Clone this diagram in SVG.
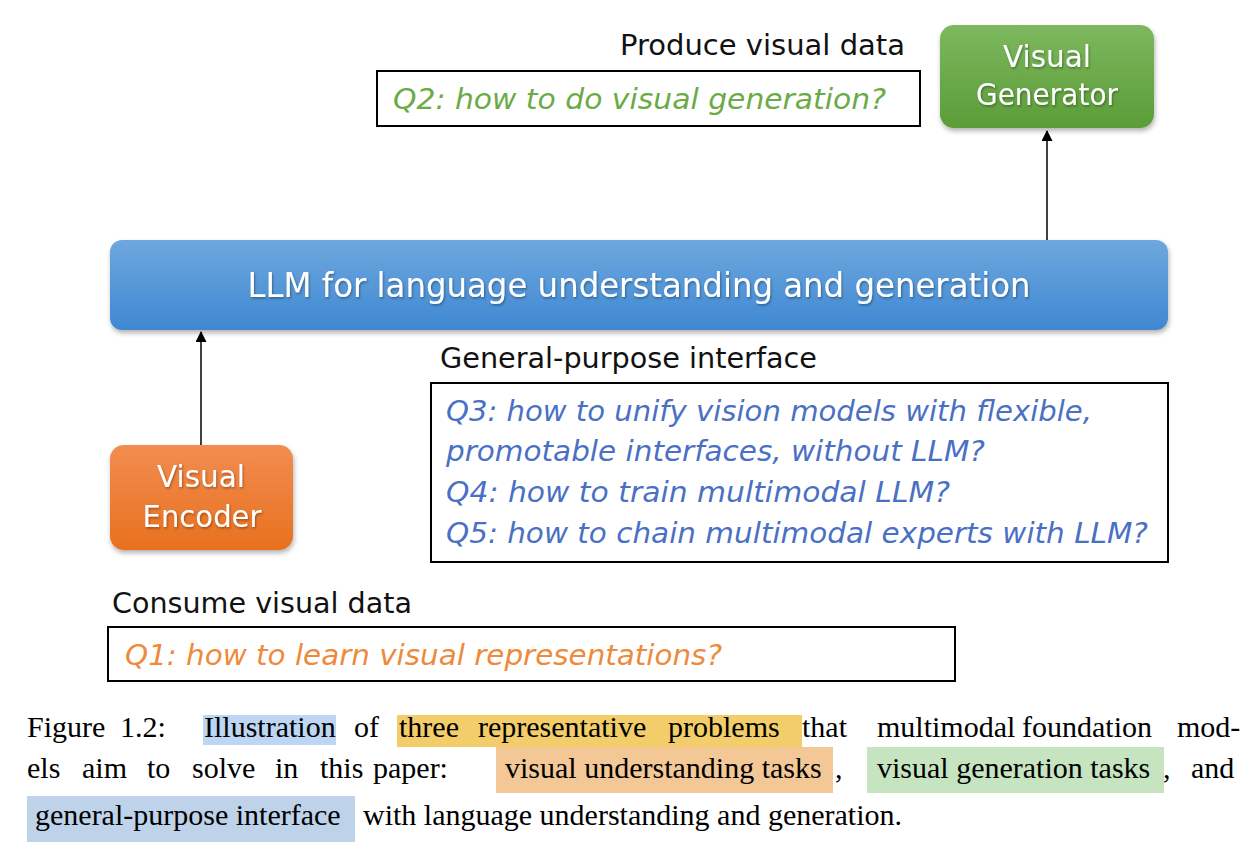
<svg xmlns="http://www.w3.org/2000/svg" width="1258" height="864" viewBox="0 0 1258 864">
<style>
.lbl{font-family:"DejaVu Sans","Noto Sans",sans-serif;font-size:28px;fill:#111}
.q{font-family:"DejaVu Sans","Noto Sans",sans-serif;font-size:28px;font-style:italic}
.w{font-family:"DejaVu Sans","Noto Sans",sans-serif;fill:#fff;text-anchor:middle}
.box{fill:#fff;stroke:#000;stroke-width:2}
.cap{font-family:"Liberation Serif","Times New Roman",serif;font-size:30px;fill:#000}
.conn{stroke:#000;stroke-width:1.5;fill:none}
</style>
<defs>
<linearGradient id="gG" x1="0" y1="0" x2="0" y2="1"><stop offset="0" stop-color="#7db85e"/><stop offset="1" stop-color="#5b9c38"/></linearGradient>
<linearGradient id="gB" x1="0" y1="0" x2="0" y2="1"><stop offset="0" stop-color="#6ea8de"/><stop offset="1" stop-color="#3f88d2"/></linearGradient>
<linearGradient id="gO" x1="0" y1="0" x2="0" y2="1"><stop offset="0" stop-color="#f28d50"/><stop offset="1" stop-color="#e8701e"/></linearGradient>
<filter id="sh" x="-10%" y="-10%" width="120%" height="130%"><feDropShadow dx="1" dy="3" stdDeviation="2.5" flood-color="#000" flood-opacity="0.3"/></filter>
<filter id="ts" x="-5%" y="-20%" width="110%" height="140%"><feDropShadow dx="1" dy="1.5" stdDeviation="1" flood-color="#000" flood-opacity="0.35"/></filter>
<marker id="ar" viewBox="0 0 10 10" refX="9" refY="5" markerWidth="14" markerHeight="11" markerUnits="userSpaceOnUse" orient="auto"><path d="M0,0 L10,5 L0,10 z" fill="#000"/></marker>
</defs>

<g id="connectors">
<line class="conn" x1="1047" y1="240" x2="1047" y2="131" marker-end="url(#ar)"/>
<line class="conn" x1="201" y1="445" x2="201" y2="332" marker-end="url(#ar)"/>
</g>

<g id="visual-generator">
<rect x="940" y="25" width="214" height="103" rx="14" fill="url(#gG)" filter="url(#sh)"/>
<text class="w" x="1047" y="67" font-size="30" textLength="88" lengthAdjust="spacingAndGlyphs" filter="url(#ts)">Visual</text>
<text class="w" x="1047" y="105" font-size="30" textLength="142" lengthAdjust="spacingAndGlyphs" filter="url(#ts)">Generator</text>
</g>

<g id="q2">
<text class="lbl" x="620" y="55" textLength="285" lengthAdjust="spacingAndGlyphs">Produce visual data</text>
<rect class="box" x="377" y="71" width="543" height="55"/>
<text class="q" x="393" y="109" fill="#6aab46" textLength="493" lengthAdjust="spacingAndGlyphs">Q2: how to do visual generation?</text>
</g>

<g id="llm">
<rect x="110" y="240" width="1058" height="90" rx="12" fill="url(#gB)" filter="url(#sh)"/>
<text class="w" x="639" y="297" font-size="33" textLength="783" lengthAdjust="spacingAndGlyphs" filter="url(#ts)">LLM for language understanding and generation</text>
</g>

<g id="visual-encoder">
<rect x="110" y="445" width="183" height="105" rx="14" fill="url(#gO)" filter="url(#sh)"/>
<text class="w" x="201" y="487" font-size="30" textLength="88" lengthAdjust="spacingAndGlyphs" filter="url(#ts)">Visual</text>
<text class="w" x="202" y="527" font-size="30" textLength="119" lengthAdjust="spacingAndGlyphs" filter="url(#ts)">Encoder</text>
</g>

<g id="q345">
<text class="lbl" x="440" y="368" textLength="377" lengthAdjust="spacingAndGlyphs">General-purpose interface</text>
<rect class="box" x="431" y="383" width="737" height="179"/>
<text class="q" x="446" y="421" fill="#4a70c4" textLength="646" lengthAdjust="spacingAndGlyphs">Q3: how to unify vision models with flexible,</text>
<text class="q" x="446" y="461" fill="#4a70c4" textLength="539" lengthAdjust="spacingAndGlyphs">promotable interfaces, without LLM?</text>
<text class="q" x="446" y="502" fill="#4a70c4" textLength="504" lengthAdjust="spacingAndGlyphs">Q4: how to train multimodal LLM?</text>
<text class="q" x="446" y="543" fill="#4a70c4" textLength="702" lengthAdjust="spacingAndGlyphs">Q5: how to chain multimodal experts with LLM?</text>
</g>

<g id="q1">
<text class="lbl" x="112" y="613" textLength="300" lengthAdjust="spacingAndGlyphs">Consume visual data</text>
<rect class="box" x="108" y="627" width="847" height="54"/>
<text class="q" x="125" y="665" fill="#ee8a3c" textLength="597" lengthAdjust="spacingAndGlyphs">Q1: how to learn visual representations?</text>
</g>

<g id="caption">
<rect x="203" y="715" width="133" height="30" fill="#bcd6f4"/>
<rect x="397" y="715" width="405" height="32" fill="#f2cd69"/>
<rect x="496" y="747" width="337" height="46" fill="#f4c896"/>
<rect x="867" y="747" width="297" height="46" fill="#c6e4c0"/>
<rect x="27" y="796" width="328" height="46" fill="#bed3ea"/>
<text class="cap" y="737"><tspan x="27">Figure</tspan><tspan x="120">1.2:</tspan><tspan x="204">Illustration</tspan><tspan x="354">of</tspan><tspan x="399">three</tspan><tspan x="478">representative</tspan><tspan x="668">problems</tspan><tspan x="802">that</tspan><tspan x="877">multimodal</tspan><tspan x="1022">foundation</tspan><tspan x="1177">mod-</tspan></text>
<text class="cap" y="778"><tspan x="27">els</tspan><tspan x="82">aim</tspan><tspan x="147">to</tspan><tspan x="192">solve</tspan><tspan x="275">in</tspan><tspan x="320">this</tspan><tspan x="373">paper:</tspan><tspan x="505">visual understanding tasks</tspan><tspan x="835">,</tspan><tspan x="877">visual generation tasks</tspan><tspan x="1163">,</tspan><tspan x="1191">and</tspan></text>
<text class="cap" y="825"><tspan x="35">general-purpose interface</tspan><tspan x="363">with language understanding and generation.</tspan></text>
</g>
</svg>
